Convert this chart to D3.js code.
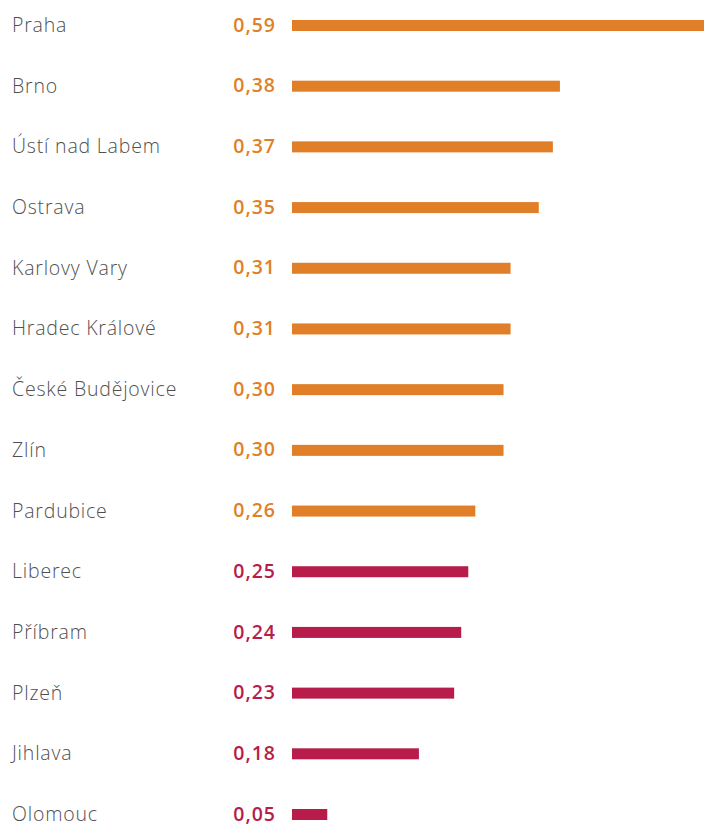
<!DOCTYPE html>
<html>
<head>
<meta charset="utf-8">
<script src="https://cdn.jsdelivr.net/npm/d3@7"></script>
<style>
  body { margin: 0; background: #fff; }
  svg { display: block; }
</style>
</head>
<body>
<div id="graph"></div>
<script>
var cities = ["Praha", "Brno", "Ústí nad Labem", "Ostrava", "Karlovy Vary", "Hradec Králové",
    "České Budějovice", "Zlín", "Pardubice", "Liberec", "Příbram", "Plzeň", "Jihlava", "Olomouc"]
var values = [0.59, 0.38, 0.37, 0.35, 0.31, 0.31, 0.30, 0.30, 0.26, 0.25, 0.24, 0.23, 0.18, 0.05]
var groups = ["top", "top", "top", "top", "top", "top", "top", "top", "top",
    "rest", "rest", "rest", "rest", "rest"]

var width = 704, height = 826
var colors = { top: "#e07f28", rest: "#b81c4b" }

var data = cities.map(function(c, i) { return { city: c, value: values[i], group: groups[i] } })

var svg = d3.select("#graph").append("svg")
    .attr("width", width)
    .attr("height", height)

var x = d3.scaleLinear().domain([0, 0.59]).range([292, 708])
var y = d3.scalePoint().domain(cities).range([25, 814])

var fmt = function(v) { return d3.format(".2f")(v).replace(".", ",") }

var row = svg.selectAll("g.row")
    .data(data)
    .enter().append("g")
    .attr("class", "row")
    .attr("transform", function(d) { return "translate(0," + y(d.city) + ")" })

// city name
row.append("text")
    .attr("x", 12)
    .attr("dy", "0.36em")
    .style("font-family", "'Open Sans', sans-serif")
    .style("font-weight", 300)
    .style("font-size", "19.5px")
    .style("letter-spacing", "0.8px")
    .style("fill", "#505050")
    .text(function(d) { return d.city })

// value
row.append("text")
    .attr("x", 276)
    .attr("dy", "0.34em")
    .attr("text-anchor", "end")
    .style("font-family", "'Open Sans', sans-serif")
    .style("font-weight", 600)
    .style("font-size", "19.5px")
    .style("letter-spacing", "1px")
    .style("fill", function(d) { return colors[d.group] })
    .text(function(d) { return fmt(d.value) })

row.append("rect")
    .attr("x", x(0))
    .attr("y", -5)
    .attr("height", 11)
    .attr("width", function(d) { return x(d.value) - x(0) })
    .attr("fill", function(d) { return colors[d.group] })
</script>
</body>
</html>
